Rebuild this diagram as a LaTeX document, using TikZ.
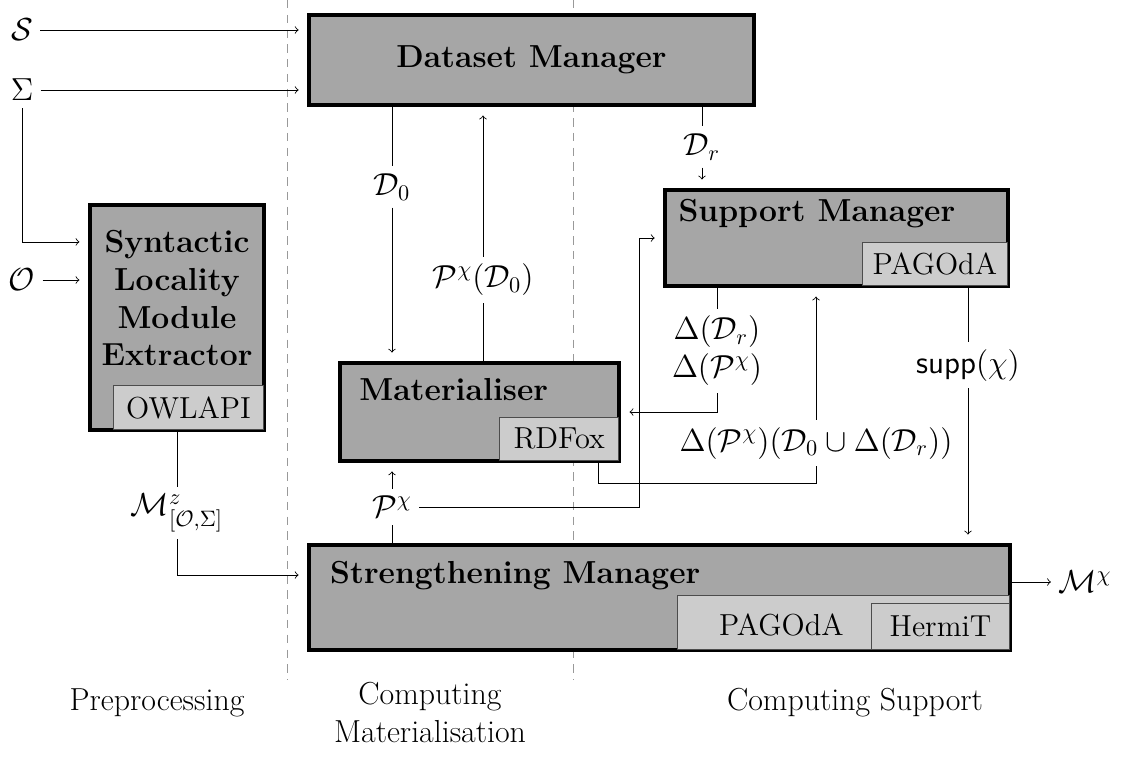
\documentclass[tikz,border=0pt]{standalone}
\usepackage{fix-cm}
\usepackage{amsfonts}
\usepackage{amssymb}
\usetikzlibrary{calc}

\begin{document}
\begin{tikzpicture}[font=\fontsize{15.1}{18}\selectfont,
  module/.style={draw, line width=2pt, fill=black!35, inner sep=0pt},
  tool/.style={draw=black!70, fill=black!20, font=\Large, inner sep=0pt},
  flow/.style={->, shorten >=4pt},
  phase/.style={draw=black!40, dash pattern=on 4pt off 3pt}]
\useasboundingbox (0,0) rectangle (18.85,12.817);

% phase separators
\draw[phase] (4.783,12.817)--(4.783,1.483);
\draw[phase] (9.55,12.817)--(9.55,1.483);

% modules
\node[module, minimum width=7.41cm, minimum height=1.5cm] (dsman) at (8.858,11.817) {\textbf{Dataset Manager}};
\node[module, minimum width=2.9cm, minimum height=3.75cm] (synt) at (2.95,7.525) {};
\node[align=center] (synttxt) at (2.95,7.85) {\textbf{Syntactic}\\\textbf{Locality}\\\textbf{Module}\\\textbf{Extractor}};
\node[tool, minimum width=2.5cm, minimum height=0.73cm, anchor=south east] (owl) at ([shift={(-1pt,1pt)}]synt.south east) {OWLAPI};

\node[module, minimum width=4.65cm, minimum height=1.63cm] (mat) at (7.992,5.95) {};
\node[anchor=west, inner sep=0pt] (mattxt) at ([xshift=0.35cm,yshift=-0.48cm]mat.north west) {\textbf{Materialiser}};
\node[tool, minimum width=1.98cm, minimum height=0.72cm, anchor=south east] (rdfox) at ([shift={(-1pt,1pt)}]mat.south east) {RDFox};

\node[module, minimum width=5.71cm, minimum height=1.6cm] (supman) at (13.942,8.85) {};
\node[anchor=west, inner sep=0pt] (suptxt) at ([xshift=0.25cm,yshift=-0.42cm]supman.north west) {\textbf{Support Manager}};
\node[tool, minimum width=2.42cm, minimum height=0.72cm, anchor=south east] (suppag) at ([shift={(-1pt,1pt)}]supman.south east) {PAGOdA};

\node[module, minimum width=11.68cm, minimum height=1.75cm] (strman) at (10.992,2.858) {};
\node[anchor=west, inner sep=0pt] (strtxt) at ([xshift=0.38cm,yshift=-0.55cm]strman.north west) {\textbf{Strengthening Manager}};
\node[tool, minimum width=5.53cm, minimum height=0.9cm, anchor=south east] (strpag) at ([shift={(-1pt,1pt)}]strman.south east) {};
\node[tool, minimum width=2.3cm, minimum height=0.77cm, anchor=south east] (herm) at ([shift={(-1pt,1pt)}]strman.south east) {HermiT};
\node[font=\Large] (strpagtxt) at ([xshift=0.12cm]$(strpag.west)!0.5!(herm.west)$) {PAGOdA};

% inputs and outputs
\node (S) at (0.367,12.317) {$\mathcal{S}$};
\node (sigma) at (0.367,11.317) {$\Sigma$};
\node (O) at (0.367,8.15) {$\mathcal{O}$};
\node (mchi) at (18.083,3.117) {$\mathcal{M}^\chi$};

\draw[flow] (S) -- (S -| dsman.west);
\draw[flow] (sigma) -- (sigma -| dsman.west);
\draw[flow] (sigma) |- ([yshift=1.26cm]synt.west);
\draw[flow] (O) -- (O -| synt.west);
\draw[->] (mchi -| strman.east) -- (mchi);

% data passed between modules
\node (mz) at (2.95,4.267) {$\mathcal{M}^z_{[\mathcal{O},\Sigma]}$};
\draw (owl.south -| mz) -- (mz);
\draw[flow] (mz) |- ([yshift=0.375cm]strman.west);

\node (d0) at (6.533,9.7) {$\mathcal{D}_0$};
\draw (d0 |- dsman.south) -- (d0);
\draw[flow] (d0) -- (d0 |- mat.north);

\node (pd0) at (8.05,8.15) {$\mathcal{P}^\chi(\mathcal{D}_0)$};
\draw (pd0 |- mat.north) -- (pd0);
\draw[flow] (pd0) -- (pd0 |- dsman.south);

\node (dr) at (11.7,10.367) {$\mathcal{D}_r$};
\draw (dr |- dsman.south) -- (dr);
\draw[flow] (dr) -- (dr |- supman.north);

\node[align=center] (dd) at (11.95,6.967) {$\Delta(\mathcal{D}_r)$\\$\Delta(\mathcal{P}^\chi)$};
\draw (dd |- supman.south) -- (dd);
\draw[flow] (dd) |- (mat.east);

\node (big) at (13.6,5.433) {$\Delta(\mathcal{P}^\chi)(\mathcal{D}_0\cup\Delta(\mathcal{D}_r))$};
\coordinate (rdout) at ([xshift=-0.35cm]rdfox.south east);
\draw (rdout) -- ++(0,-0.37) -| (big);
\draw[flow] (big) -- (big |- supman.south);

\node (px) at (6.533,4.367) {$\mathcal{P}^\chi$};
\draw (px |- strman.north) -- (px);
\draw[flow] (px) -- (px |- mat.south);
\draw[flow] (px) -| ([xshift=-0.4cm]supman.west) -- (supman.west);

\node (sp) at (16.133,6.733) {\textsf{supp}$(\chi)$};
\draw (sp |- suppag.south) -- (sp);
\draw[flow] (sp) -- (sp |- strman.north);

% phases
\node (pre) at (2.617,1.1) {Preprocessing};
\node[align=center] (cmat) at (7.167,0.95) {Computing\\Materialisation};
\node (csup) at (14.25,1.1) {Computing Support};
\end{tikzpicture}
\end{document}
